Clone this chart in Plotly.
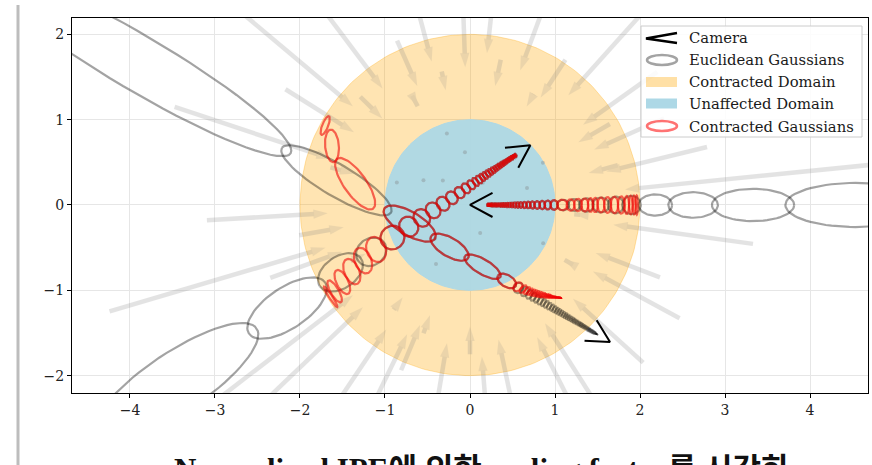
import numpy as np
import plotly.graph_objects as go

# ---------------------------------------------------------------- data
# Three cameras: centre, viewing heading, gaussian half-width per unit depth
CAM_X = [0.0, 0.71, 1.647]
CAM_Y = [0.0, 0.70, -1.606]
CAM_HEADING_DEG = [0.0, 213.7, 149.5]
CAM_SPREAD = [0.057, 0.07, 0.05]

# Depths along each camera ray that bound consecutive gaussians
DEPTHS_CAM_A = [0.20, 0.21, 0.22, 0.23, 0.24, 0.25, 0.26, 0.275, 0.29, 0.305,
                0.32, 0.34, 0.36, 0.38, 0.40, 0.425, 0.45, 0.48, 0.51, 0.545,
                0.58, 0.62, 0.665, 0.71, 0.76, 0.82, 0.88, 0.95, 1.03, 1.16,
                1.29, 1.45, 1.63, 1.80, 2.00, 2.36, 2.89, 3.77, 5.3, 7.5,
                11.0, 18.0, 35.0]
DEPTHS_CAM_B = [0.20, 0.21, 0.22, 0.23, 0.24, 0.25, 0.26, 0.275, 0.29, 0.305,
                0.32, 0.34, 0.36, 0.38, 0.40, 0.425, 0.45, 0.48, 0.51, 0.545,
                0.58, 0.62, 0.66, 0.70, 0.75, 0.80, 0.87, 0.95, 1.05, 1.17,
                1.30, 1.45, 1.62, 1.82, 2.08, 2.42, 2.95, 3.93, 6.1, 13.5, 40.0]
DEPTHS_CAM_C = [0.17, 0.175, 0.18, 0.185, 0.19, 0.195, 0.20, 0.21, 0.22,
                0.23, 0.24, 0.25, 0.26, 0.27, 0.28, 0.29, 0.30, 0.315, 0.33,
                0.345, 0.36, 0.375, 0.39, 0.405, 0.42, 0.44, 0.46, 0.48, 0.50,
                0.52, 0.545, 0.57, 0.595, 0.62, 0.65, 0.68, 0.71, 0.74, 0.775,
                0.81, 0.85, 0.89, 0.93, 0.975, 1.02, 1.07, 1.13, 1.20, 1.30,
                1.52, 1.96, 2.42, 3.05, 4.42, 8.5, 30.0]
DEPTHS = [DEPTHS_CAM_A, DEPTHS_CAM_B, DEPTHS_CAM_C]

# Radii of the contracted domain and of the unaffected (identity) domain
DOMAIN_RADII = [2.0, 1.0]

# Sample points of the contraction field (polar angle in degrees, radius)
FIELD_ANGLE_DEG = [140, 161.7, 148, 183.3, 196.4, 217.5, 127, 114, 105, 92,
                   83.6, 78, 69.5, 56.6, 48, 35.3, 24, 13.7, 5.7, -7.8,
                   -20.8, -28.3, -42.2, -57.5, -63, -78, -85.5, -90, -99.5,
                   -112.7, -116, -124, 190, 200, 233.8, 223.6, 135.5,
                   102, 118, 60, 165, 205, 250, -30, 15, -5, 30,
                   108, 95.5, 152, 138, 30, 16.6, -70, -27.5, 163, 223.6,
                   60, -120]
FIELD_RADIUS = [5.0, 3.66, 2.56, 3.10, 4.42, 3.8, 3.45, 2.11, 3.85, 2.6,
                4.8, 1.74, 3.2, 2.04, 3.7, 2.7, 2.5, 2.87, 6.0, 3.36,
                2.39, 2.8, 2.75, 2.8, 3.85, 2.6, 4.65, 1.75, 2.8,
                2.1, 3.2, 4.2, 2.04, 2.5, 1.52, 3.85, 1.81,
                1.6, 1.45, 1.5, 1.7, 1.55, 1.6, 1.4, 1.8, 1.3, 1.9,
                0.88, 0.62, 0.62, 0.43, 0.99, 0.7, 0.35, 0.97, 0.9, 0.57,
                0.3, 0.8]

X_TICKS = [-4, -3, -2, -1, 0, 1, 2, 3, 4]
Y_TICKS = [-2, -1, 0, 1, 2]
LEGEND_LABELS = ["Camera", "Euclidean Gaussians", "Contracted Domain",
                 "Unaffected Domain", "Contracted Gaussians"]
CAPTION = "Normalized IPE에 의한 scaling factor를 시각화"

# ---------------------------------------------------------------- layout
W, H = 872, 465
ML, MR, MT, MB = 72, 4, 18, 72
X_RANGE = [-4.682, 4.682]
Y_RANGE = [-2.204, 2.192]

GREY_LINE = "rgba(0,0,0,0.36)"
RED_LINE = "rgba(240,0,0,0.58)"
ORANGE_FILL = "rgba(255,165,0,0.3)"
BLUE_FILL = "rgba(173,216,230,0.95)"
SERIF = "DejaVu Serif"


def px(x):
    return (x - ML) / (W - ML - MR)


def py(y):
    return (H - MB - y) / (H - MT - MB)


def contract(p):
    r = np.hypot(p[0], p[1])
    if r <= 1.0:
        return p.copy()
    return (2.0 - 1.0 / r) * p / r


def contract_jacobian(p):
    r = np.hypot(p[0], p[1])
    if r <= 1.0:
        return np.eye(2)
    u = p / r
    uu = np.outer(u, u)
    return uu / r ** 2 + (2.0 - 1.0 / r) / r * (np.eye(2) - uu)


fig = go.Figure()
theta = np.linspace(0, 2 * np.pi, 241)

# domains
for radius, fill in zip(DOMAIN_RADII, [ORANGE_FILL, BLUE_FILL]):
    fig.add_trace(go.Scatter(
        x=radius * np.cos(theta), y=radius * np.sin(theta),
        mode="lines", fill="toself", fillcolor=fill,
        line=dict(color=fill, width=1),
        hoverinfo="skip", showlegend=False))

# contraction field arrows
arr_x, arr_y, arr_size = [], [], []
dot_x, dot_y = [], []
for ang, rad in zip(FIELD_ANGLE_DEG, FIELD_RADIUS):
    u = np.array([np.cos(np.radians(ang)), np.sin(np.radians(ang))])
    tail = rad * u
    if rad <= 1.0:
        dot_x.append(tail[0])
        dot_y.append(tail[1])
        continue
    head = contract(tail)
    arr_x += [tail[0], head[0], None]
    arr_y += [tail[1], head[1], None]
    arr_size += [0, 15, 0]

fig.add_trace(go.Scatter(
    x=arr_x, y=arr_y, mode="lines+markers",
    line=dict(color="#808080", width=4.5),
    marker=dict(symbol="arrow", size=arr_size, angleref="previous",
                color="#808080", line=dict(width=0)),
    opacity=0.21, hoverinfo="skip", showlegend=False))
fig.add_trace(go.Scatter(
    x=dot_x, y=dot_y, mode="markers",
    marker=dict(symbol="circle", size=4, color="#808080", line=dict(width=0)),
    opacity=0.35, hoverinfo="skip", showlegend=False))

# gaussians along each camera ray
phi = np.linspace(0, 2 * np.pi, 73)
euclid, contracted = [], []
for cx, cy, hd, spread, depths in zip(CAM_X, CAM_Y, CAM_HEADING_DEG,
                                      CAM_SPREAD, DEPTHS):
    c = np.array([cx, cy])
    d = np.array([np.cos(np.radians(hd)), np.sin(np.radians(hd))])
    n = np.array([-d[1], d[0]])
    for t0, t1 in zip(depths[:-1], depths[1:]):
        tc = 0.5 * (t0 + t1)
        a = 0.5 * (t1 - t0) + min(0.05 * (t1 - t0), 0.06)
        b = spread * tc
        m = c + tc * d
        offs = (np.outer(a * np.cos(phi), d) + np.outer(b * np.sin(phi), n))
        euclid.append(m + offs)
        J = contract_jacobian(m)
        contracted.append(contract(m) + offs @ J.T)

for pts in euclid:
    fig.add_trace(go.Scatter(x=pts[:, 0], y=pts[:, 1], mode="lines",
                             line=dict(color=GREY_LINE, width=2.2),
                             hoverinfo="skip", showlegend=False))
for pts in contracted:
    fig.add_trace(go.Scatter(x=pts[:, 0], y=pts[:, 1], mode="lines",
                             line=dict(color=RED_LINE, width=2.2),
                             hoverinfo="skip", showlegend=False))

# cameras drawn as open frustum wedges
cam_x, cam_y = [], []
for cx, cy, hd in zip(CAM_X, CAM_Y, CAM_HEADING_DEG):
    for k, off in enumerate([28, -28]):
        ang = np.radians(hd + off)
        pt = (cx + 0.3 * np.cos(ang), cy + 0.3 * np.sin(ang))
        if k == 0:
            cam_x += [pt[0], cx]
            cam_y += [pt[1], cy]
        else:
            cam_x += [pt[0], None]
            cam_y += [pt[1], None]
fig.add_trace(go.Scatter(x=cam_x, y=cam_y, mode="lines",
                         line=dict(color="black", width=2),
                         hoverinfo="skip", showlegend=False))

# ---------------------------------------------------------------- legend
shapes = []
annotations = []
shapes.append(dict(type="rect", xref="paper", yref="paper",
                   x0=px(641), x1=px(862), y0=py(137), y1=py(26),
                   line=dict(color="#cccccc", width=1),
                   fillcolor="rgba(255,255,255,0.85)", layer="above"))
# camera glyph
shapes.append(dict(type="path", xref="paper", yref="paper",
                   path=f"M{px(677)},{py(33)} L{px(646)},{py(38.5)} L{px(677)},{py(43)}",
                   line=dict(color="black", width=2.5), layer="above"))
shapes.append(dict(type="circle", xref="paper", yref="paper",
                   x0=px(647), x1=px(677), y0=py(65), y1=py(55),
                   line=dict(color=GREY_LINE, width=2.5), layer="above"))
shapes.append(dict(type="rect", xref="paper", yref="paper",
                   x0=px(646), x1=px(677), y0=py(87), y1=py(77),
                   line=dict(width=0), fillcolor="rgba(255,165,0,0.35)",
                   layer="above"))
shapes.append(dict(type="rect", xref="paper", yref="paper",
                   x0=px(646), x1=px(677), y0=py(108.5), y1=py(98.5),
                   line=dict(width=0), fillcolor="rgb(173,216,230)",
                   layer="above"))
shapes.append(dict(type="circle", xref="paper", yref="paper",
                   x0=px(647), x1=px(677), y0=py(131), y1=py(121),
                   line=dict(color="rgba(255,0,0,0.55)", width=2.5),
                   layer="above"))
for label, yc in zip(LEGEND_LABELS, [37.5, 59.5, 81.5, 103.5, 126]):
    annotations.append(dict(text=label, xref="paper", yref="paper",
                            x=px(687), y=py(yc), xanchor="left",
                            yanchor="middle", showarrow=False,
                            font=dict(family=SERIF, size=14.8, color="#1a1a1a")))

# page decoration: quote bar and caption below the figure
shapes.append(dict(type="line", xref="paper", yref="paper",
                   x0=px(18), x1=px(18), y0=py(5), y1=py(470),
                   line=dict(color="#bdbdbd", width=3)))
annotations.append(dict(text=f"<b>{CAPTION}</b>", xref="paper", yref="paper",
                        x=px(481), y=py(450), xanchor="center", yanchor="top",
                        showarrow=False,
                        font=dict(family="Liberation Serif, Noto Sans CJK KR",
                                  size=31, color="#111111")))

axis_common = dict(showgrid=True, gridcolor="#e6e6e6", gridwidth=1,
                   zeroline=False, showline=True, linecolor="black",
                   linewidth=1, mirror=True, ticks="outside", ticklen=4,
                   tickcolor="black", fixedrange=True,
                   tickfont=dict(family=SERIF, size=14, color="#222222"))

fig.update_layout(
    width=W, height=H, autosize=False,
    margin=dict(l=ML, r=MR, t=MT, b=MB),
    paper_bgcolor="white", plot_bgcolor="white",
    xaxis=dict(range=X_RANGE, tickvals=X_TICKS, **axis_common),
    yaxis=dict(range=Y_RANGE, tickvals=Y_TICKS, **axis_common),
    shapes=shapes, annotations=annotations, showlegend=False,
)

fig.write_html("out.html")
